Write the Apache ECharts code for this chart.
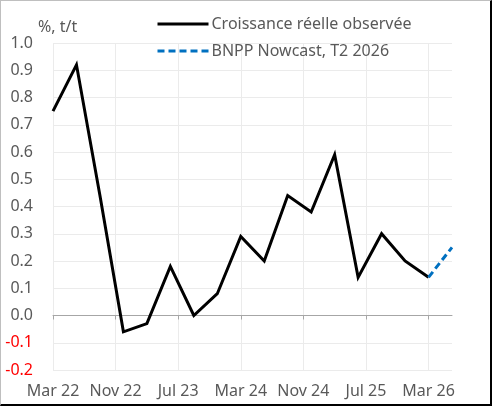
<!DOCTYPE html>
<html><head><meta charset="utf-8">
<script src="https://cdn.jsdelivr.net/npm/echarts@6/dist/echarts.min.js"></script>
<style>
html,body{margin:0;padding:0;background:#fff;}
#wrap{position:absolute;left:0;top:0;width:489px;height:403px;border-left:1px solid #bfbfbf;border-top:1px solid #bfbfbf;border-right:2px solid #000;border-bottom:2px solid #000;}
#c{position:absolute;left:-1px;top:-1px;width:492px;height:406px;}
</style></head>
<body><div id="wrap"><div id="c"></div></div>
<script>
// Monthly category axis from Mar 22 to Jun 26
const monthNames = ['Jan','Feb','Mar','Apr','May','Jun','Jul','Aug','Sep','Oct','Nov','Dec'];
const startMonth = 2, startYear = 22, monthCount = 52;
const months = [];
for (let i = 0; i < monthCount; i++) {
  const m = (startMonth + i) % 12, y = startYear + Math.floor((startMonth + i) / 12);
  months.push(monthNames[m] + ' ' + y);
}
const tickLabels = ['Mar 22','Nov 22','Jul 23','Mar 24','Nov 24','Jul 25','Mar 26'];
// Quarterly observed growth (Mar 22 ... Mar 26), % q/q
const observedMonthIdx = [0,3,6,9,12,15,18,21,24,27,30,33,36,39,42,45,48];
const observed = [0.75,0.92,0.44,-0.06,-0.03,0.18,0.00,0.08,0.29,0.20,0.44,0.38,0.59,0.14,0.30,0.20,0.14];
const nowcastMonthIdx = [48,51];
const nowcast = [0.14,0.25];
const seriesNames = ['Croissance réelle observée','BNPP Nowcast, T2 2026'];

const txt = '#595959';
const font = '"Noto Sans", sans-serif';
const chart = echarts.init(document.getElementById('c'), null, {renderer:'canvas'});
chart.setOption({
  animation:false,
  backgroundColor:'transparent',
  grid:{left:53,right:40,top:43,bottom:36,containLabel:false},
  title:{text:'%, t/t',left:33,top:14,textStyle:{fontSize:16,fontWeight:'normal',color:txt,fontFamily:font}},
  legend:{
    orient:'vertical',left:151,top:11,itemWidth:51,itemHeight:14,itemGap:11,
    textStyle:{fontSize:16,color:txt,fontFamily:font,padding:[0,0,0,-2]},
    itemStyle:{opacity:0},
    lineStyle:{width:3},
    data:seriesNames
  },
  xAxis:[{
    type:'category',data:months,boundaryGap:false,position:'bottom',
    axisLine:{show:false,onZero:false},axisTick:{show:false},
    axisLabel:{interval:7,margin:13,fontSize:16,color:txt,fontFamily:font,
      formatter:(v)=> tickLabels.includes(v)?v:''},
    splitLine:{show:true,interval:7,lineStyle:{color:'#ebebeb',width:1}}
  },{
    type:'category',data:months,boundaryGap:false,position:'bottom',
    axisLine:{show:true,onZero:true,lineStyle:{color:'#a6a6a6',width:1}},
    axisTick:{show:true,interval:7,length:4,lineStyle:{color:'#a6a6a6'}},
    axisLabel:{show:false},splitLine:{show:false}
  }],
  yAxis:{
    type:'value',min:-0.2,max:1.0,interval:0.1,
    axisLine:{show:false},axisTick:{show:false},
    axisLabel:{margin:20,fontSize:16,fontFamily:font,
      formatter:(v)=>v.toFixed(1),
      color:(v)=> (v < -0.001 ? '#ff0000' : txt)},
    splitLine:{lineStyle:{color:'#ebebeb',width:1}}
  },
  series:[{
    name:seriesNames[0],type:'line',xAxisIndex:0,symbol:'none',
    data:observedMonthIdx.map((m,i)=>[m,observed[i]]),
    lineStyle:{color:'#000',width:3,join:'miter'},itemStyle:{color:'#000'}
  },{
    name:seriesNames[1],type:'line',xAxisIndex:0,symbol:'none',
    data:nowcastMonthIdx.map((m,i)=>[m,nowcast[i]]),
    lineStyle:{color:'#0070c0',width:3,type:[7,4]},itemStyle:{color:'#0070c0'}
  }]
});
</script></body></html>
